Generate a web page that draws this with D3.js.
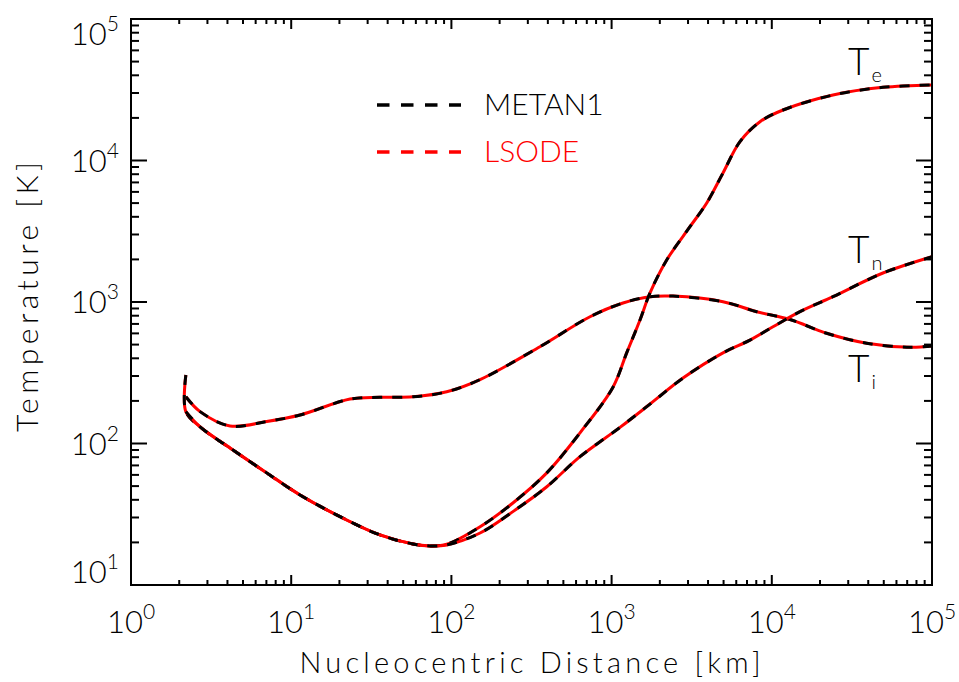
<!DOCTYPE html>
<html>
<head>
<meta charset="utf-8">
<script src="https://cdn.jsdelivr.net/npm/d3@7"></script>
<style>
  body { margin: 0; background: #fff; }
  svg { display: block; font-family: "Lato", "DejaVu Sans", sans-serif; font-weight: 300; }
</style>
</head>
<body>
<svg id="chart" width="959" height="682"></svg>
<script>
// [distance km, temperature K]
const tempIon = [
  [2.2, 214], [2.7, 168], [4.15, 133], [7.03, 143], [11.35, 159], [23.3, 206],
  [35.8, 212], [57.6, 214], [93.5, 232], [151, 283], [357, 483], [733, 787],
  [1178, 984], [1737, 1090], [2417, 1101], [4958, 1005], [8050, 854],
  [13000, 752], [22000, 601], [39100, 511], [72900, 479], [100000, 489]
];
const tempElectron = [
  [2.2, 305], [2.2, 168], [2.7, 131], [4.33, 90], [7.03, 62], [11.35, 43.3],
  [22.2, 28.8], [35.8, 22.6], [57.6, 19.5], [73.5, 18.9], [93.5, 19.4],
  [151, 25.8], [242, 38], [394, 62], [635, 119], [1020, 250], [1242, 437],
  [1504, 746], [1737, 1159], [2208, 1982], [3085, 3404], [3925, 5012],
  [4958, 8166], [6330, 13600], [8440, 18790], [11750, 22740], [24100, 29040],
  [49400, 32880], [100000, 34200]
];
const tempNeutral = [
  [2.2, 168], [2.7, 131], [4.33, 90], [7.03, 62], [11.35, 43.3], [22.2, 28.8],
  [35.8, 22.6], [57.6, 19.5], [73.5, 18.9], [93.5, 19.2], [151, 23.3],
  [242, 33], [394, 49.5], [635, 80.7], [1128, 130], [1737, 190], [2790, 290],
  [4958, 437], [7310, 538], [10170, 668], [15000, 854], [24100, 1090],
  [49400, 1603], [100000, 2089]
];
const seriesNames = ["METAN1", "LSODE"];
const seriesColors = ["#000000", "#ff0000"];
// curve labels: text, subscript, anchor [distance, temperature]
const curveLabels = [
  ["T", "e", 29900, 40200],
  ["T", "n", 29900, 1888],
  ["T", "i", 29900, 272]
];
const xDecades = [0, 1, 2, 3, 4, 5];
const yDecades = [1, 2, 3, 4, 5];

const svg = d3.select("#chart");
const box = { left: 131, right: 932, top: 19, bottom: 585 };

const x = d3.scaleLog().domain([1, 1e5]).range([box.left, box.right]);
const y = d3.scaleLog().domain([10, 1e5]).range([box.bottom, box.top]);

// minor + major tick values
function tickSet(decs) {
  const out = [];
  decs.forEach((e, i) => {
    out.push({ v: Math.pow(10, e), major: true, e: e });
    if (i < decs.length - 1) {
      for (let m = 2; m <= 9; m++) out.push({ v: m * Math.pow(10, e), major: false });
    }
  });
  return out;
}
const xt = tickSet(xDecades);
const yt = tickSet(yDecades);

const g = svg.append("g");

// curves: red solid (LSODE) under black dashed (METAN1)
const line = d3.line()
  .x((d) => x(d[0]))
  .y((d) => y(d[1]))
  .curve(d3.curveCatmullRom.alpha(0.5));

[tempIon, tempElectron, tempNeutral].forEach((s) => {
  g.append("path").attr("d", line(s))
    .attr("fill", "none").attr("stroke", seriesColors[1]).attr("stroke-width", 3);
  g.append("path").attr("d", line(s))
    .attr("fill", "none").attr("stroke", seriesColors[0]).attr("stroke-width", 3)
    .attr("stroke-dasharray", "10,10");
});

// frame
svg.append("rect")
  .attr("x", box.left).attr("y", box.top)
  .attr("width", box.right - box.left).attr("height", box.bottom - box.top)
  .attr("fill", "none").attr("stroke", "#000").attr("stroke-width", 2);

// ticks on all four sides, pointing inward
const ticks = svg.append("g").attr("stroke", "#000").attr("stroke-width", 2);
xt.forEach((t) => {
  const len = t.major ? 10 : 5;
  const px = x(t.v);
  ticks.append("line").attr("x1", px).attr("x2", px).attr("y1", box.bottom).attr("y2", box.bottom - len);
  ticks.append("line").attr("x1", px).attr("x2", px).attr("y1", box.top).attr("y2", box.top + len);
});
yt.forEach((t) => {
  const len = t.major ? 16 : 8;
  const py = y(t.v);
  ticks.append("line").attr("x1", box.left).attr("x2", box.left + len).attr("y1", py).attr("y2", py);
  ticks.append("line").attr("x1", box.right).attr("x2", box.right - len).attr("y1", py).attr("y2", py);
});

// tick labels
xt.filter((t) => t.major).forEach((t) => {
  const tx = svg.append("text")
    .attr("x", x(t.v)).attr("y", 633)
    .attr("text-anchor", "middle")
    .style("font-size", "31px");
  tx.append("tspan").text("10");
  tx.append("tspan").attr("dy", -14).style("font-size", "21px").text(t.e);
});
// end labels are pulled inside the axis range like the original
yt.filter((t) => t.major).forEach((t) => {
  const off = t.e === 5 ? 26 : t.e === 1 ? -2 : 11;
  const ty = svg.append("text")
    .attr("x", 119).attr("y", y(t.v) + off)
    .attr("text-anchor", "end")
    .style("font-size", "31px");
  ty.append("tspan").text("10");
  ty.append("tspan").attr("dy", -14).style("font-size", "21px").text(t.e);
});

// axis titles
svg.append("text")
  .attr("x", 530).attr("y", 673)
  .attr("text-anchor", "middle")
  .attr("textLength", 461).attr("lengthAdjust", "spacing")
  .style("font-size", "29px")
  .text("Nucleocentric Distance [km]");

svg.append("text")
  .attr("transform", "rotate(-90)")
  .attr("x", -297).attr("y", 38)
  .attr("text-anchor", "middle")
  .attr("textLength", 270).attr("lengthAdjust", "spacing")
  .style("font-size", "30px")
  .text("Temperature [K]");

// curve labels
curveLabels.forEach((l) => {
  const t = svg.append("text")
    .attr("x", x(l[2])).attr("y", y(l[3]))
    .style("font-size", "37px");
  t.append("tspan").text(l[0]);
  t.append("tspan").attr("dx", 2).attr("dy", 7).style("font-size", "20px").text(l[1]);
});

// legend
const legend = svg.append("g");
seriesNames.forEach((name, i) => {
  const ly = 105 + i * 47;
  legend.append("line")
    .attr("x1", 377).attr("x2", 461).attr("y1", ly).attr("y2", ly)
    .attr("stroke", seriesColors[i]).attr("stroke-width", 3.3)
    .attr("stroke-dasharray", "12.5,11.5");
  legend.append("text")
    .attr("x", 484).attr("y", ly + 10)
    .attr("fill", seriesColors[i])
    .style("font-size", "30px")
    .text(name);
});
</script>
</body>
</html>
